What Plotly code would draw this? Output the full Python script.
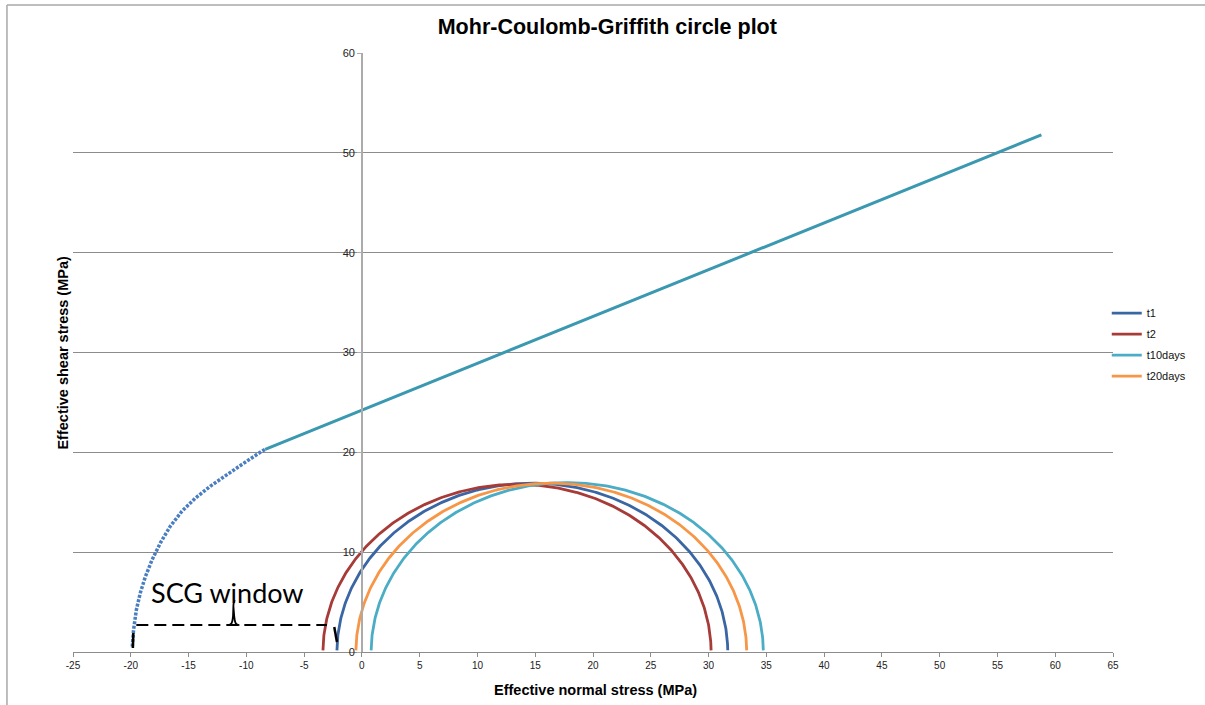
import numpy as np
import plotly.graph_objects as go

# ---- data ----
series_names = ["t1", "t2", "t10days", "t20days"]
sigma3 = [-2.16, -3.37, 0.80, -0.52]      # minimum effective principal stress (MPa)
sigma1 = [31.66, 30.22, 34.74, 33.30]     # maximum effective principal stress (MPa)
series_colors = ["#3A66A4", "#A63B38", "#4BACC6", "#F79646"]

# failure envelope: Griffith (curved) part, read point by point
griffith_x = [-19.87, -19.76, -19.52, -19.18, -18.75, -18.17, -17.45, -16.58,
              -15.57, -14.42, -13.13, -11.68, -10.24, -8.80, -8.37]
griffith_y = [0.53, 2.2, 4.2, 5.9, 7.5, 9.2, 10.9, 12.6,
              14.1, 15.4, 16.6, 17.8, 18.9, 20.0, 20.3]
# failure envelope: Coulomb (linear) part
coulomb_x = [-8.37, 58.8]
coulomb_y = [20.3, 51.8]

x_tickvals = [-25, -20, -15, -10, -5, 0, 5, 10, 15, 20, 25, 30, 35, 40, 45, 50, 55, 60, 65]
x_ticktext = ["-25", "-20", "-15", "-10", "-5", "0", "5", "10", "15", "20", "25",
              "30", "35", "40", "45", "50", "55", "60", "65"]
y_tickvals = [0, 10, 20, 30, 40, 50, 60]

FONT = "Liberation Sans"

fig = go.Figure()

# envelope
fig.add_trace(go.Scatter(x=griffith_x, y=griffith_y, mode="lines", showlegend=False,
                         line=dict(color="#4A7EC0", width=3.5, dash="3px,1.5px"), hoverinfo="skip"))
fig.add_trace(go.Scatter(x=coulomb_x, y=coulomb_y, mode="lines", showlegend=False,
                         line=dict(color="#3A98B0", width=3), hoverinfo="skip"))

# Mohr circles
theta = np.linspace(0.01, np.pi - 0.01, 400)
for name, s3, s1, col in zip(series_names, sigma3, sigma1, series_colors):
    c = (s1 + s3) / 2.0
    r = (s1 - s3) / 2.0
    fig.add_trace(go.Scatter(x=c - r * np.cos(theta), y=r * np.sin(theta), mode="lines",
                             name=name, legendgroup=name, line=dict(color=col, width=2.8)))

shapes = []
# SCG window dashed line
shapes.append(dict(type="line", xref="x", yref="y", x0=-19.52, y0=2.7, x1=-3.03, y1=2.7,
                   line=dict(color="black", width=2, dash="12px,6px")))
# end marks
shapes.append(dict(type="line", xref="x", yref="y", x0=-19.78, y0=1.9, x1=-19.82, y1=0.4,
                   line=dict(color="black", width=2.5)))
shapes.append(dict(type="line", xref="x", yref="y", x0=-2.39, y0=2.5, x1=-2.16, y1=1.0,
                   line=dict(color="black", width=2.5)))
# brace
shapes.append(dict(type="path", xref="x", yref="y",
                   path="M -11.6,2.7 C -11.25,2.7 -11.2,3.0 -11.15,3.6 L -11.12,4.6 "
                        "C -11.12,4.9 -11.05,5.1 -11.0,5.2 "
                        "M -11.12,4.6 L -11.05,3.6 C -11.0,3.0 -10.95,2.7 -10.6,2.7",
                   line=dict(color="black", width=1.8)))
# chart-area border (top and left only visible)
shapes.append(dict(type="line", xref="paper", yref="paper", x0=-0.0635, y0=-0.1, x1=-0.0635, y1=1.08,
                   line=dict(color="#A8A8A8", width=1.5)))
shapes.append(dict(type="line", xref="paper", yref="paper", x0=-0.0635, y0=1.08, x1=1.1, y1=1.08,
                   line=dict(color="#A8A8A8", width=1.5)))

annotations = [
    dict(text="SCG window", x=-11.6, y=6.0, xref="x", yref="y", showarrow=False,
         xanchor="center", yanchor="middle", font=dict(family="Lato", size=27, color="black")),
    dict(text="<b>Effective normal stress (MPa)</b>", x=0.502, y=-0.046, xref="paper", yref="paper",
         showarrow=False, xanchor="center", yanchor="top", font=dict(family=FONT, size=14.5, color="black")),
    dict(text="<b>Effective shear stress (MPa)</b>", x=-0.0105, y=0.5, xref="paper", yref="paper",
         showarrow=False, textangle=-90, xanchor="center", yanchor="middle",
         font=dict(family=FONT, size=14.5, color="black")),
]

fig.update_layout(
    width=1205, height=705,
    margin=dict(l=73, r=92, t=53, b=53),
    paper_bgcolor="white", plot_bgcolor="white",
    title=dict(text="<b>Mohr-Coulomb-Griffith circle plot</b>", x=0.504, xanchor="center",
               y=0.962, yanchor="middle", font=dict(family=FONT, size=21.5, color="black")),
    font=dict(family=FONT, color="#222"),
    xaxis=dict(range=[-25, 65], tickvals=x_tickvals, ticktext=x_ticktext, showgrid=False,
               zeroline=False, showline=True, linecolor="#8C8C8C", linewidth=1,
               ticks="outside", ticklen=4, tickcolor="#8C8C8C", tickfont=dict(size=10, color="#222")),
    yaxis=dict(range=[0, 60], tickvals=y_tickvals, anchor="free", position=25 / 90,
               showgrid=True, gridcolor="#8C8C8C", gridwidth=1, zeroline=False,
               showline=True, linecolor="#ABABAB", linewidth=1.5,
               ticks="outside", ticklen=4, tickcolor="#ABABAB", tickfont=dict(size=11, color="#222")),
    legend=dict(x=0.994, y=0.59, xanchor="left", yanchor="top", font=dict(size=11, color="#111"),
                bgcolor="rgba(0,0,0,0)", tracegroupgap=2),
    shapes=shapes,
    annotations=annotations,
)

fig.write_html("out.html", config={"displayModeBar": False})

# remove the browser's default body margin so the figure sits at the window's top-left corner
with open("out.html", "r", encoding="utf-8") as f:
    html = f.read()
html = html.replace("<head>", "<head><style>html,body{margin:0;padding:0;}</style>", 1)
with open("out.html", "w", encoding="utf-8") as f:
    f.write(html)
